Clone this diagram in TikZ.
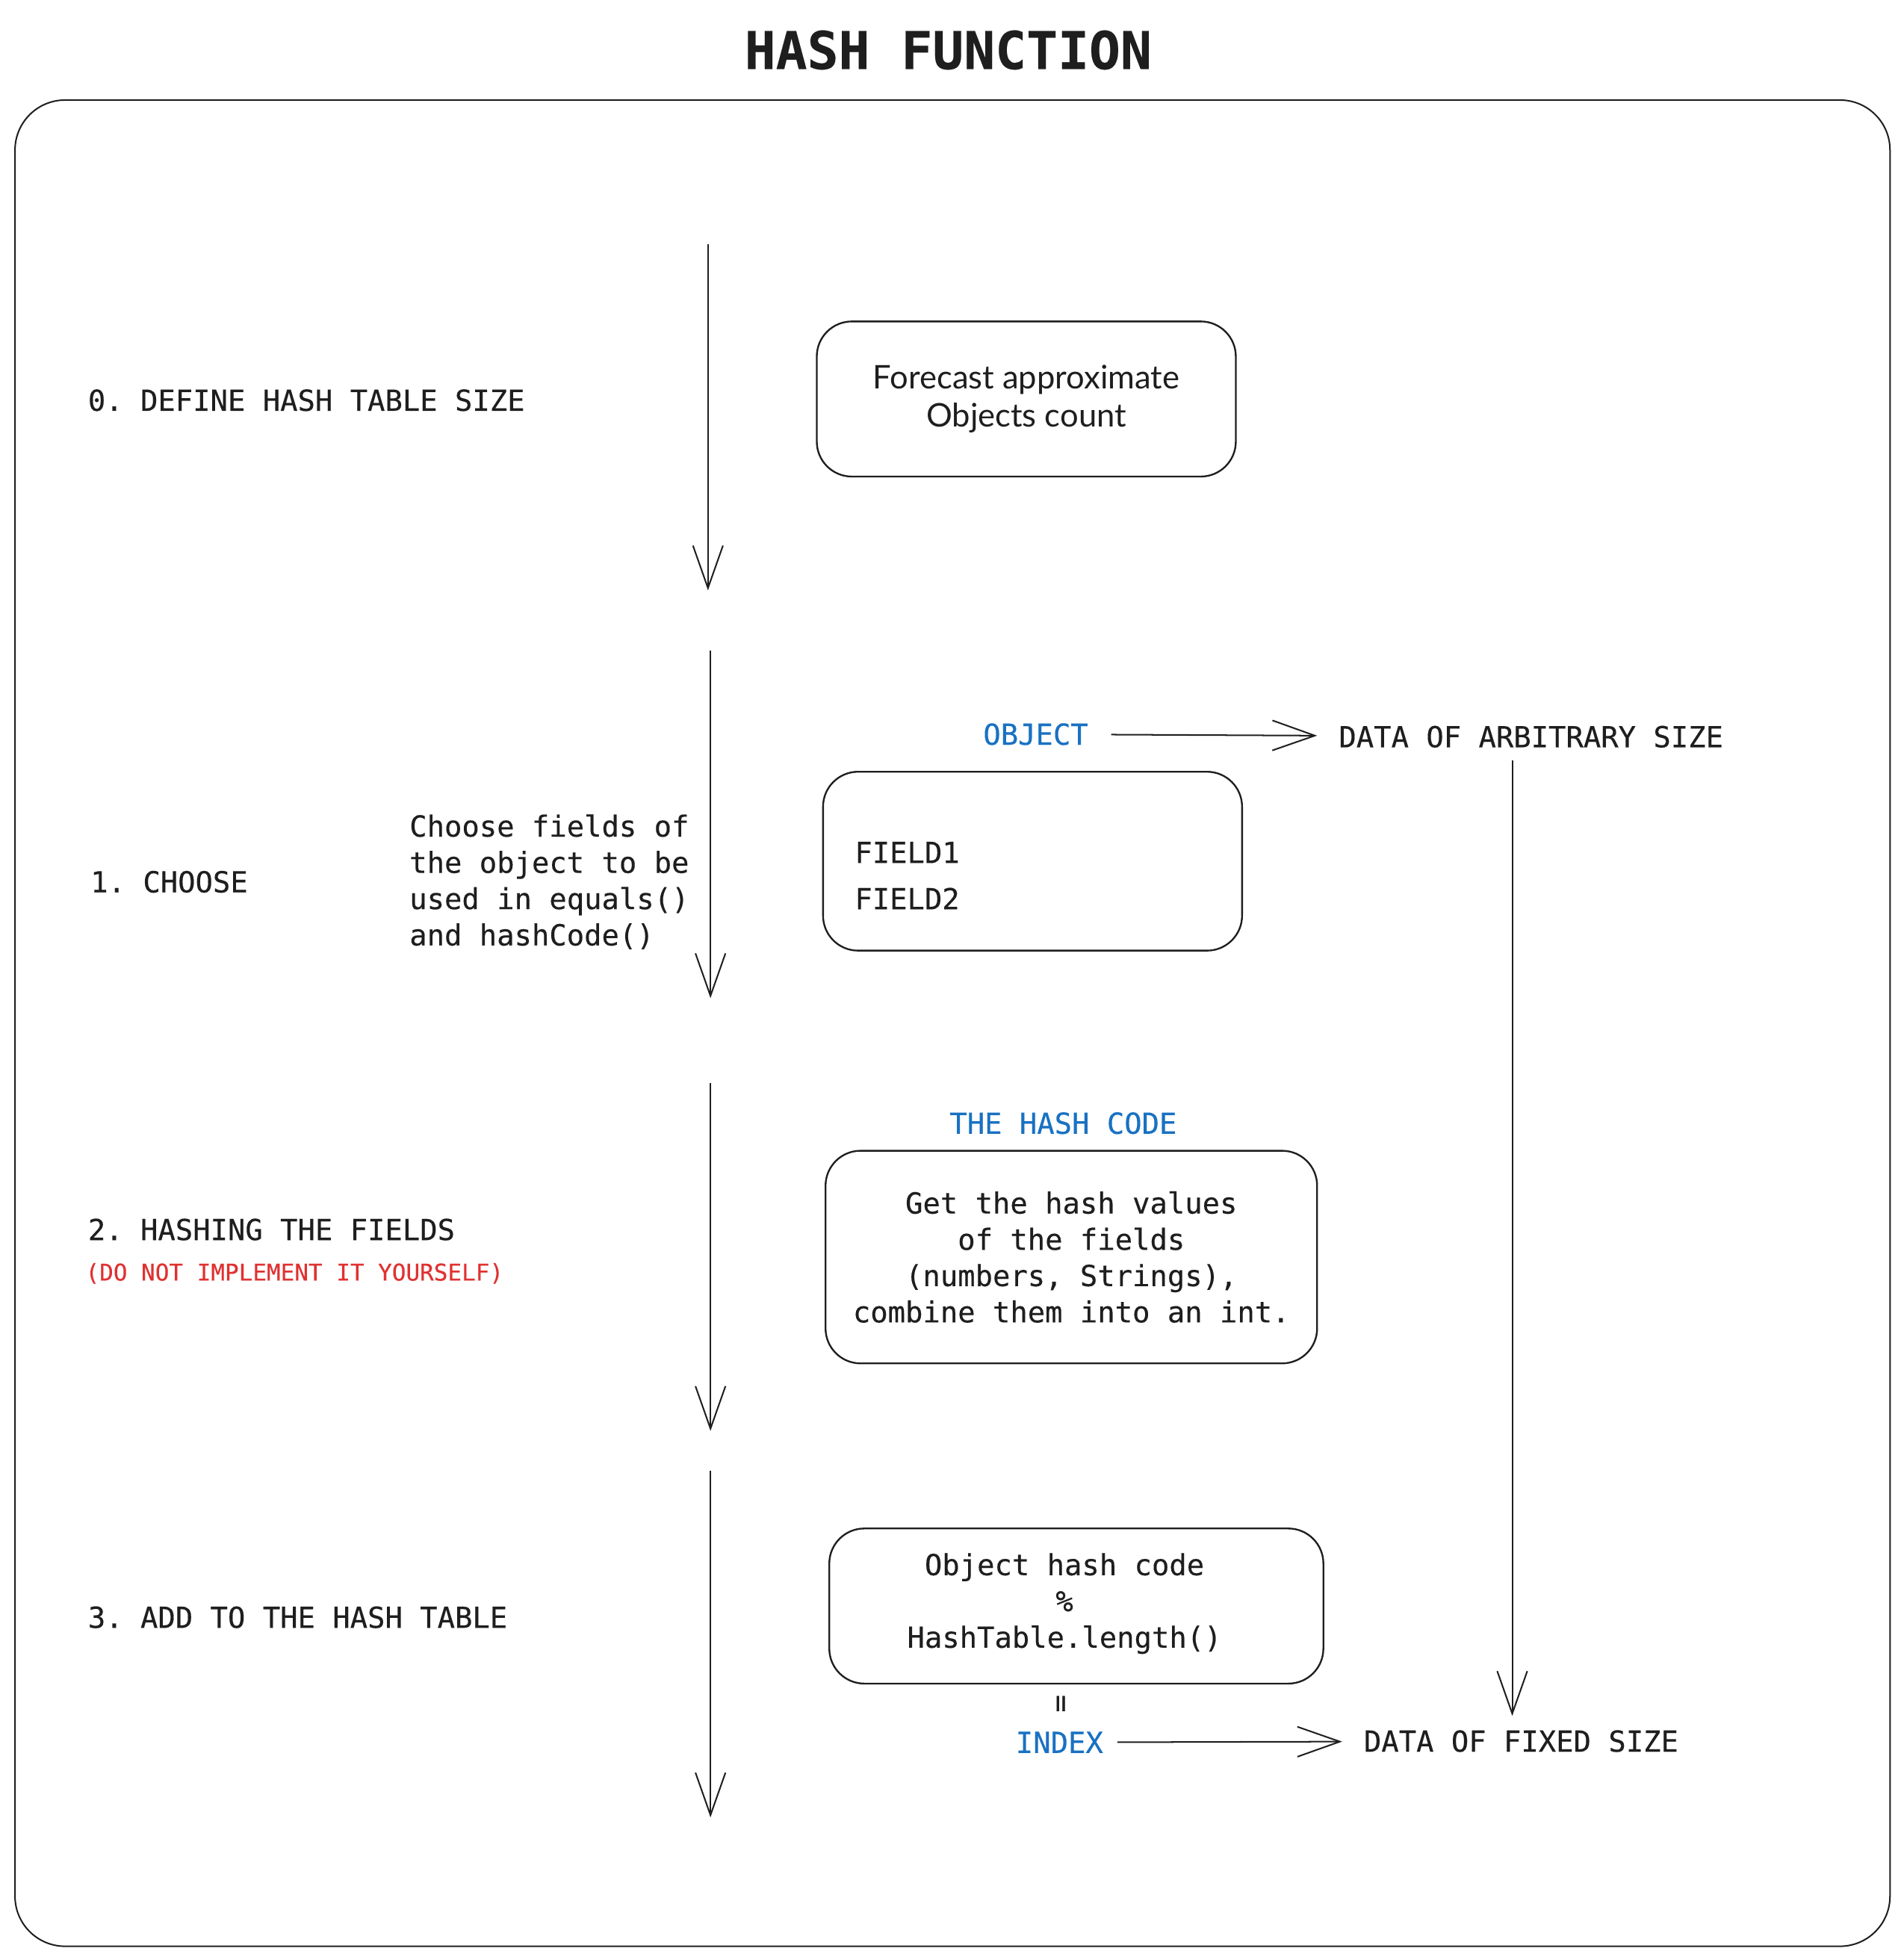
\documentclass[tikz,border=0pt]{standalone}
\usepackage{fontspec}
\setmonofont[FakeBold=0.3]{DejaVu Sans Mono}
\newfontfamily\handfont{Lato}
\usetikzlibrary{arrows.meta}
\definecolor{ink}{HTML}{1E1E1E}
\definecolor{codeblue}{HTML}{1971C2}
\definecolor{warnred}{HTML}{E03131}
\tikzstyle{txt}=[font=\ttfamily\fontsize{11.6}{14.5}\selectfont, text=ink, inner sep=0pt]
\tikzstyle{lab}=[txt, text=codeblue]
\tikzstyle{warn}=[font=\ttfamily\fontsize{9.25}{11}\selectfont, text=warnred, inner sep=0pt]
\tikzstyle{box}=[draw=ink, line width=0.7pt, rounded corners=14pt, inner sep=0pt, align=center]
\tikzstyle{arr}=[draw=ink, line width=0.6pt, -{Straight Barb[length=17pt,width=12pt,line width=0.6pt]}]

\begin{document}
\begin{tikzpicture}[x=0.5pt, y=-0.5pt]
      \useasboundingbox (0,0) rectangle (1522,1567);
      % title and frame
      \node at (758,40) [txt, font=\ttfamily\bfseries\fontsize{20.8}{25}\selectfont] (title) {HASH FUNCTION};
      \draw[ink, line width=0.6pt, rounded corners=20pt] (12,80) rectangle (1511,1556);
      %
      % steps on the left
      \node at (70,320) [txt, anchor=west] (step0) {0. DEFINE HASH TABLE SIZE};
      \node at (72,705) [txt, anchor=west] (step1) {1. CHOOSE};
      \node at (327,705) [txt, anchor=west, align=left] (note1) {Choose fields of\\the object to be\\used in equals()\\and hashCode()};
      \node at (70,983) [txt, anchor=west] (step2) {2. HASHING THE FIELDS};
      \node at (68,1018) [warn, anchor=west] (warn2) {(DO NOT IMPLEMENT IT YOURSELF)};
      \node at (70,1293) [txt, anchor=west] (step3) {3. ADD TO THE HASH TABLE};
      %
      % flow arrows
      \foreach \x/\ya/\yb [count=\i] in {566/195/472, 568/520/798, 568/866/1144, 568/1176/1453} {
        \coordinate (top\i) at (\x,\ya);
        \coordinate (bot\i) at (\x,\yb);
        \draw[arr] (top\i) -- (bot\i);
      }
      %
      % boxes
      \node at (820.5,319) [box, minimum width=167.5pt, minimum height=62pt, font=\handfont\fontsize{13}{15}\selectfont, text=ink] (forecast) {Forecast approximate\\Objects count};
      \node at (825.5,688.5) [box, minimum width=167.5pt, minimum height=71.5pt] (object) {};
      \node at (683,700) [txt, anchor=west, align=left] (fields) {FIELD1\\[4pt]FIELD2};
      \node at (856.5,1005) [box, txt, minimum width=196.5pt, minimum height=85pt] (hashing) {Get the hash values\\of the fields\\(numbers, Strings),\\combine them into an int.};
      \node at (860.5,1284) [box, minimum width=197.5pt, minimum height=62pt] (modulo) {};
      \node at (851,1282) [txt, align=center] (modtext) {Object hash code\\\%\\HashTable.length()};
      %
      % labels
      \node at (828,587) [lab] (obj) {OBJECT};
      \node at (1070,589) [txt, anchor=west] (arb) {DATA OF ARBITRARY SIZE};
      \node at (850,898) [lab] (hcode) {THE HASH CODE};
      \node at (850,1362) [txt, rotate=90] (eq) {=};
      \node at (847,1393) [lab] (index) {INDEX};
      \node at (1090,1392) [txt, anchor=west] (fixed) {DATA OF FIXED SIZE};
      %
      \draw[arr, shorten <=9pt, shorten >=8.5pt] (obj) -- (arb);
      \draw[arr, shorten <=5.5pt, shorten >=8.5pt] (index) -- (fixed);
      \coordinate (rx) at (1209,0);
      \draw[arr, shorten <=5pt, shorten >=5.5pt] (arb.south -| rx) -- (fixed.north -| rx);
\end{tikzpicture}
\end{document}
